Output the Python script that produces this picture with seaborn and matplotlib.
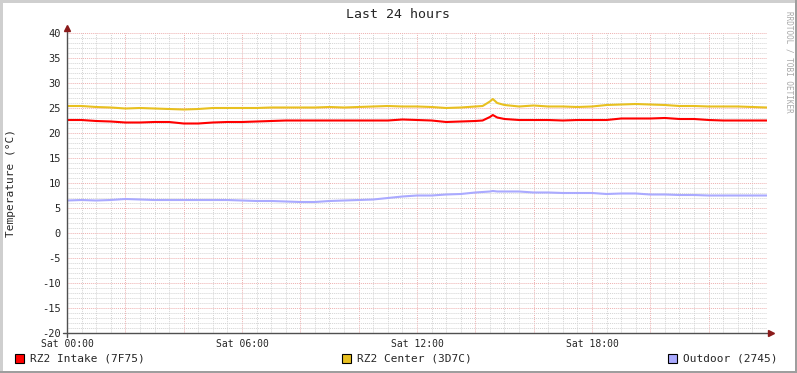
import numpy as np
import pandas as pd
import matplotlib
matplotlib.use("Agg")
import matplotlib.pyplot as plt
import seaborn as sns
from matplotlib.ticker import MultipleLocator, FixedLocator, FixedFormatter
from matplotlib.patches import Rectangle

# ---------------- data ----------------
hours = [0.0, 0.5, 1.0, 1.5, 2.0, 2.5, 3.0, 3.5, 4.0, 4.5, 5.0, 5.5, 6.0, 6.5, 7.0, 7.5,
         8.0, 8.5, 9.0, 9.5, 10.0, 10.5, 11.0, 11.5, 12.0, 12.5, 13.0, 13.5, 14.0, 14.25,
         14.5, 14.6, 14.75, 15.0, 15.5, 16.0, 16.5, 17.0, 17.5, 18.0, 18.5, 19.0, 19.5,
         20.0, 20.5, 21.0, 21.5, 22.0, 22.5, 23.0, 23.5, 24.0]

intake = [22.6, 22.6, 22.4, 22.3, 22.1, 22.1, 22.2, 22.2, 21.9, 21.9, 22.1, 22.2, 22.2, 22.3,
          22.4, 22.5, 22.5, 22.5, 22.5, 22.5, 22.5, 22.5, 22.5, 22.7, 22.6, 22.5, 22.2, 22.3,
          22.4, 22.5, 23.2, 23.6, 23.1, 22.8, 22.6, 22.6, 22.6, 22.5, 22.6, 22.6, 22.6, 22.9,
          22.9, 22.9, 23.0, 22.8, 22.8, 22.6, 22.5, 22.5, 22.5, 22.5]

center = [25.4, 25.4, 25.2, 25.1, 24.9, 25.0, 24.9, 24.8, 24.7, 24.8, 25.0, 25.0, 25.0, 25.0,
          25.1, 25.1, 25.1, 25.1, 25.2, 25.1, 25.2, 25.3, 25.4, 25.3, 25.3, 25.2, 25.0, 25.1,
          25.3, 25.4, 26.3, 26.8, 26.0, 25.6, 25.3, 25.5, 25.3, 25.3, 25.2, 25.3, 25.6, 25.7,
          25.8, 25.7, 25.6, 25.4, 25.4, 25.3, 25.3, 25.3, 25.2, 25.1]

outdoor = [6.5, 6.6, 6.5, 6.6, 6.8, 6.7, 6.6, 6.6, 6.6, 6.6, 6.6, 6.6, 6.5, 6.4, 6.4, 6.3,
           6.2, 6.2, 6.4, 6.5, 6.6, 6.7, 7.0, 7.3, 7.5, 7.5, 7.7, 7.8, 8.1, 8.2, 8.3, 8.4,
           8.3, 8.3, 8.3, 8.1, 8.1, 8.0, 8.0, 8.0, 7.8, 7.9, 7.9, 7.7, 7.7, 7.6, 7.6, 7.5,
           7.5, 7.5, 7.5, 7.5]

series_names = ["RZ2 Intake (7F75)", "RZ2 Center (3D7C)", "Outdoor (2745)"]
series_colors = ["#FF0000", "#E8C020", "#AAAAFF"]
x_tick_hours = [0, 6, 12, 18]
x_tick_labels = ["Sat 00:00", "Sat 06:00", "Sat 12:00", "Sat 18:00"]
y_ticks = [-20, -15, -10, -5, 0, 5, 10, 15, 20, 25, 30, 35, 40]

df = pd.concat([
    pd.DataFrame({"hour": hours, "temp": vals, "series": name})
    for name, vals in zip(series_names, [intake, center, outdoor])
], ignore_index=True)

# ---------------- style ----------------
sns.set_style("white")
plt.rcParams["font.family"] = ["DejaVu Sans Mono", "DejaVu Sans"]

W, H = 797, 373
fig = plt.figure(figsize=(W / 100, H / 100), dpi=100, facecolor="white")
ax = fig.add_axes([67 / W, 40 / H, 700 / W, 300 / H])
ax.set_facecolor("white")

sns.lineplot(data=df, x="hour", y="temp", hue="series",
             palette=dict(zip(series_names, series_colors)),
             hue_order=series_names, legend=False, linewidth=1.5,
             ax=ax, zorder=5)

ax.set_xlim(0, 24)
ax.set_ylim(-20, 40)

# grid
major_x = list(np.arange(0, 24.01, 2))
ax.yaxis.set_major_locator(FixedLocator(y_ticks))
ax.yaxis.set_minor_locator(MultipleLocator(1))
ax.xaxis.set_major_locator(FixedLocator(major_x))
ax.xaxis.set_minor_locator(MultipleLocator(0.5))
ax.grid(which="minor", color="#d4d4d4", linestyle=(0, (1, 1)), linewidth=0.7)
ax.grid(which="major", color="#eeb0b0", linestyle=(0, (1, 1)), linewidth=0.7)
ax.set_axisbelow(True)

# x tick labels only every 6 hours
labels = []
for v in major_x:
    if int(round(v)) in x_tick_hours:
        labels.append(x_tick_labels[x_tick_hours.index(int(round(v)))])
    else:
        labels.append("")
ax.xaxis.set_major_formatter(FixedFormatter(labels))
ax.tick_params(axis="x", which="major", length=3, width=0.8, color="#eeb0b0",
               labelsize=7, pad=1, direction="out")
ax.tick_params(axis="x", which="minor", length=0)
ax.tick_params(axis="y", which="major", length=3, width=0.8, color="#555555",
               labelsize=7.5, pad=1.5, direction="out")
ax.tick_params(axis="y", which="minor", length=0)
ax.set_yticklabels([str(v) for v in y_ticks])
ax.set_xlabel("")
ax.set_ylabel("")

for s in ax.spines.values():
    s.set_visible(False)

# axis lines with arrows
ax.plot([-0.006, 1.004], [0, 0], transform=ax.transAxes, color="#505050",
        lw=1.0, clip_on=False, zorder=6)
ax.plot([0, 0], [-0.013, 1.013], transform=ax.transAxes, color="#505050",
        lw=1.0, clip_on=False, zorder=6)
ax.plot([1.006], [0], marker=">", markersize=4, color="#8B1A1A",
        transform=ax.transAxes, clip_on=False, zorder=7)
ax.plot([0], [1.016], marker="^", markersize=4, color="#8B1A1A",
        transform=ax.transAxes, clip_on=False, zorder=7)

# texts
fig.text(398 / W, 1 - 14 / H, "Last 24 hours", ha="center", va="center", fontsize=9.5)
fig.text(11 / W, 1 - 183 / H, "Temperature (°C)", rotation=90,
         ha="center", va="center", fontsize=8)
fig.text(789 / W, 1 - 62 / H, "RRDTOOL / TOBI OETIKER", rotation=270,
         ha="center", va="center", fontsize=5.5, color="#a8a8a8")

# legend
legend_x = [15, 342, 668]
for lx, name, col in zip(legend_x, series_names, series_colors):
    fig.add_artist(Rectangle((lx / W, 1 - 363 / H), 9 / W, 9 / H,
                             transform=fig.transFigure, facecolor=col,
                             edgecolor="black", linewidth=0.8))
    fig.text((lx + 15) / W, 1 - 358.5 / H, name, ha="left", va="center", fontsize=8)

# frame border
fig.add_artist(Rectangle((0, 1 - 2.5 / H), 1, 2.5 / H, transform=fig.transFigure,
                         facecolor="#cfcfcf", edgecolor="none"))
fig.add_artist(Rectangle((0, 0), 2.5 / W, 1, transform=fig.transFigure,
                         facecolor="#cfcfcf", edgecolor="none"))
fig.add_artist(Rectangle((0, 0), 1, 2.5 / H, transform=fig.transFigure,
                         facecolor="#9e9e9e", edgecolor="none"))
fig.add_artist(Rectangle((1 - 2.5 / W, 0), 2.5 / W, 1, transform=fig.transFigure,
                         facecolor="#9e9e9e", edgecolor="none"))

fig.savefig("out.png", dpi=100, facecolor="white")
